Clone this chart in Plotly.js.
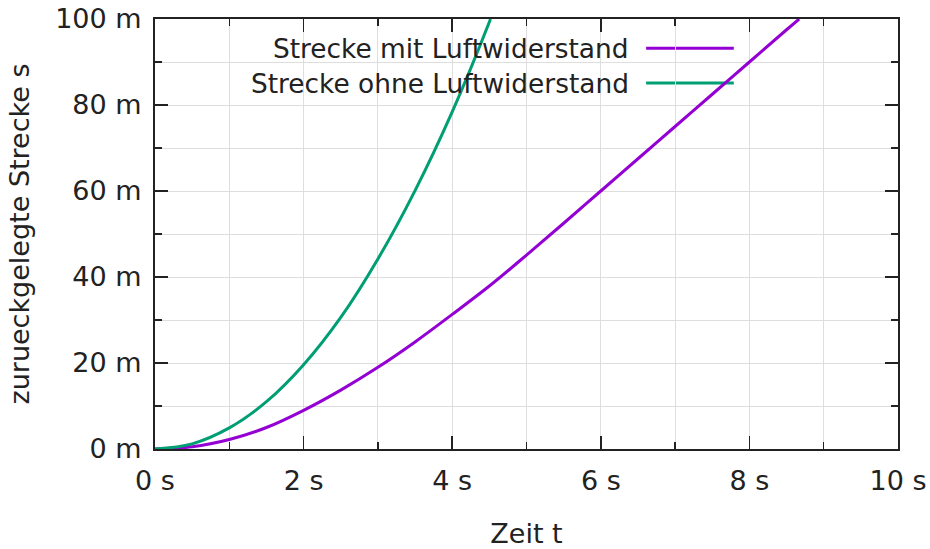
<!DOCTYPE html>
<html>
<head>
<meta charset="utf-8">
<script src="https://cdn.plot.ly/plotly-3.0.1.min.js"></script>
<style>
  html, body { margin: 0; padding: 0; background: #fff; }
  #chart { width: 930px; height: 549px; }
</style>
</head>
<body>
<div id="chart"></div>
<script>
// Fallweg über der Zeit, mit und ohne Luftwiderstand
const tMit = [0, 0.5, 1, 1.5, 2, 2.5, 3, 3.5, 4, 4.5, 5, 5.5, 6, 6.5, 7, 7.5, 8, 8.5, 8.67];
const sMit = [0, 0.5, 2.2, 5.0, 9.0, 13.7, 19.0, 24.9, 31.3, 37.9, 45.1, 52.5, 60.0, 67.5, 75.0, 82.5, 90.0, 97.5, 100];

const tOhne = [0, 0.5, 1, 1.5, 2, 2.5, 3, 3.5, 4, 4.5, 4.515];
const sOhne = [0, 1.2, 4.9, 11.0, 19.6, 30.6, 44.2, 60.1, 78.4, 99.3, 100];

const seriesNames = ['Strecke mit Luftwiderstand', 'Strecke ohne Luftwiderstand'];
const seriesColors = ['#9400d3', '#009e73'];

const xTitle = 'Zeit t';
const yTitle = 'zurueckgelegte Strecke s';

const FONT = 'DejaVu Sans, sans-serif';
const FS = 27;
const KEY_FS = 26.4;
const TEXT = '#222';
const GRID = '#dedede';
const AXIS = '#222';

const traces = [
  { x: tMit, y: sMit, name: seriesNames[0], mode: 'lines',
    line: { color: seriesColors[0], width: 3, shape: 'spline', smoothing: 1 } },
  { x: tOhne, y: sOhne, name: seriesNames[1], mode: 'lines',
    line: { color: seriesColors[1], width: 3, shape: 'spline', smoothing: 1 } }
];

function axisBase() {
  return {
    showline: true, linecolor: AXIS, linewidth: 2, mirror: 'allticks',
    ticks: 'inside', ticklen: 13, tickwidth: 1.5, tickcolor: AXIS,
    showgrid: true, gridcolor: GRID, gridwidth: 1,
    zeroline: false,
    tickfont: { family: FONT, size: FS, color: TEXT },
    minor: { ticks: 'inside', ticklen: 7, tickwidth: 1.5, tickcolor: AXIS,
             showgrid: true, gridcolor: GRID, gridwidth: 1 }
  };
}

const xaxis = Object.assign(axisBase(), {
  range: [0, 10], dtick: 2, tick0: 0, ticksuffix: ' s',
  title: { text: xTitle, font: { family: FONT, size: FS, color: TEXT }, standoff: 30 },
  ticklabelstandoff: 7
});
xaxis.minor.dtick = 1;

const yaxis = Object.assign(axisBase(), {
  range: [0, 100], dtick: 20, tick0: 0, ticksuffix: ' m',
  title: { text: yTitle, font: { family: FONT, size: FS, color: TEXT }, standoff: 18 },
  ticklabelstandoff: 6
});
yaxis.minor.dtick = 10;

// Legendenfeld: weißer Kasten über dem Gitter, Beschriftung rechtsbündig, Linienmuster rechts daneben
const keyTextRight = 0.64;   // paper x
const keySampleX = [0.661, 0.779];
const keyRowsY = [0.932, 0.851];

const shapes = [
  { type: 'rect', xref: 'paper', yref: 'paper', x0: 0.023, x1: 0.779, y0: 0.808, y1: 1,
    fillcolor: '#fff', line: { width: 0 }, layer: 'between' }
];
const annotations = [];
seriesNames.forEach((name, i) => {
  shapes.push({ type: 'line', xref: 'paper', yref: 'paper',
    x0: keySampleX[0], x1: keySampleX[1], y0: keyRowsY[i], y1: keyRowsY[i],
    line: { color: seriesColors[i], width: 3 }, layer: 'between' });
  annotations.push({ xref: 'paper', yref: 'paper', x: keyTextRight, y: keyRowsY[i],
    xanchor: 'right', yanchor: 'middle', showarrow: false, text: name,
    font: { family: FONT, size: KEY_FS, color: TEXT } });
});

const layout = {
  width: 930, height: 549,
  margin: { l: 155, r: 32, t: 19, b: 100 },
  paper_bgcolor: '#fff', plot_bgcolor: '#fff',
  showlegend: false,
  font: { family: FONT, color: TEXT },
  xaxis: xaxis, yaxis: yaxis,
  shapes: shapes, annotations: annotations
};

Plotly.newPlot('chart', traces, layout, { displayModeBar: false, staticPlot: true });
</script>
</body>
</html>
